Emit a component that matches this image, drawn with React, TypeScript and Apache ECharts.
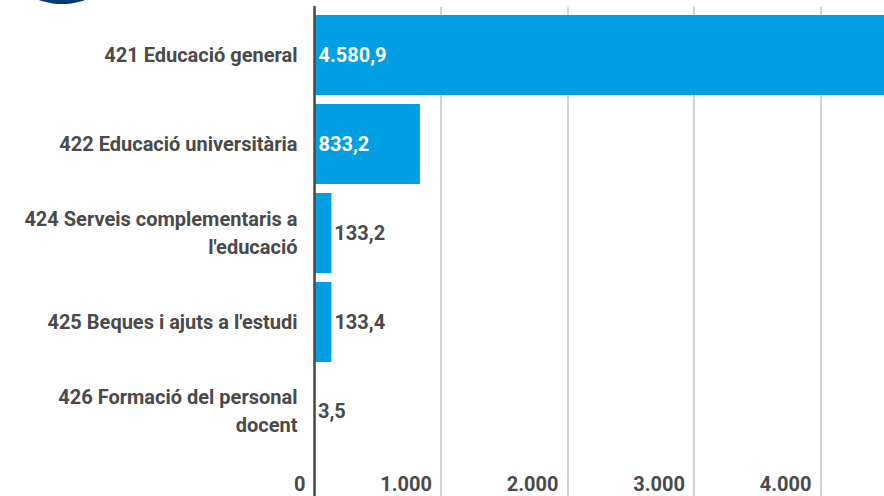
import React, { useEffect, useRef } from "react";
import * as echarts from "echarts";

const categories = [
  "421 Educació general",
  "422 Educació universitària",
  "424 Serveis complementaris a\nl'educació",
  "425 Beques i ajuts a l'estudi",
  "426 Formació del personal\ndocent",
];
const values = [4580.9, 833.2, 133.2, 133.4, 3.5];
const xTicks = [0, 1000, 2000, 3000, 4000, 5000];

const fmtNum = (v: number, dec: number) => {
  const s = v.toFixed(dec);
  const [i, d] = s.split(".");
  const ii = i.replace(/\B(?=(\d{3})+(?!\d))/g, ".");
  return d ? ii + "," + d : ii;
};

export default function App() {
  const ref = useRef<HTMLDivElement>(null);
  useEffect(() => {
    if (!ref.current) return;
    const chart = echarts.init(ref.current, undefined, { renderer: "svg" });
    const textColor = "#4a4a4a";
    const font = "Roboto";
    const fs = 20;
    const data = values.map((v) =>
      v > 500
        ? {
            value: v,
            label: { position: "insideLeft", distance: 4, color: "#ffffff" },
          }
        : {
            value: v,
            label: { position: "right", distance: 3, color: textColor },
          }
    );
    const L = 314.5;
    const R = 0;
    chart.setOption({
      animation: false,
      graphic: [
        {
          type: "circle",
          shape: { cx: 62, cy: -67, r: 71 },
          style: { fill: "#003a70" },
          z: 10,
        },
      ],
      grid: [
        { left: L, right: R, top: 10.5, bottom: 40.5 },
        { left: L, right: R, top: 7, bottom: 0 },
      ],
      xAxis: [
        {
          gridIndex: 0,
          type: "value",
          min: xTicks[0],
          max: xTicks[xTicks.length - 1],
          interval: 1000,
          show: false,
        },
        {
          gridIndex: 1,
          type: "value",
          min: xTicks[0],
          max: xTicks[xTicks.length - 1],
          interval: 1000,
          axisLine: { show: false },
          axisTick: { show: false },
          splitLine: { show: true, lineStyle: { color: "#c4c4c4", width: 1.5 } },
          axisLabel: {
            inside: true,
            margin: 2,
            align: "right",
            padding: [0, 9, 0, 0],
            showMaxLabel: false,
            color: textColor,
            fontFamily: font,
            fontSize: fs,
            fontWeight: "bold",
            formatter: (v: number) => (v >= xTicks[xTicks.length - 1] ? "" : fmtNum(v, 0)),
          },
        },
      ],
      yAxis: [
        {
          gridIndex: 0,
          type: "category",
          inverse: true,
          data: categories,
          axisLine: { show: false },
          axisTick: { show: false },
          axisLabel: {
            margin: 17,
            color: textColor,
            fontFamily: font,
            fontSize: fs,
            fontWeight: "bold",
            lineHeight: 28,
            align: "right",
          },
        },
        {
          gridIndex: 1,
          type: "value",
          min: 0,
          max: 1,
          z: 5,
          axisLine: { show: true, lineStyle: { color: "#4a4a4a", width: 2.5 } },
          axisTick: { show: false },
          axisLabel: { show: false },
          splitLine: { show: false },
        },
      ],
      series: [
        {
          type: "bar",
          xAxisIndex: 0,
          yAxisIndex: 0,
          data,
          barCategoryGap: "10%",
          itemStyle: { color: "#009fe3" },
          label: {
            show: true,
            fontFamily: font,
            fontSize: fs,
            fontWeight: "bold",
            formatter: (p: any) => fmtNum(p.value, 1),
          },
        },
      ],
    });
    return () => chart.dispose();
  }, []);
  return (
    <div
      style={{ position: "fixed", left: 0, top: 0, width: 884, height: 496, overflow: "hidden", background: "#fff" }}
    >
      <div ref={ref} style={{ width: 947, height: 496 }} />
    </div>
  );
}
